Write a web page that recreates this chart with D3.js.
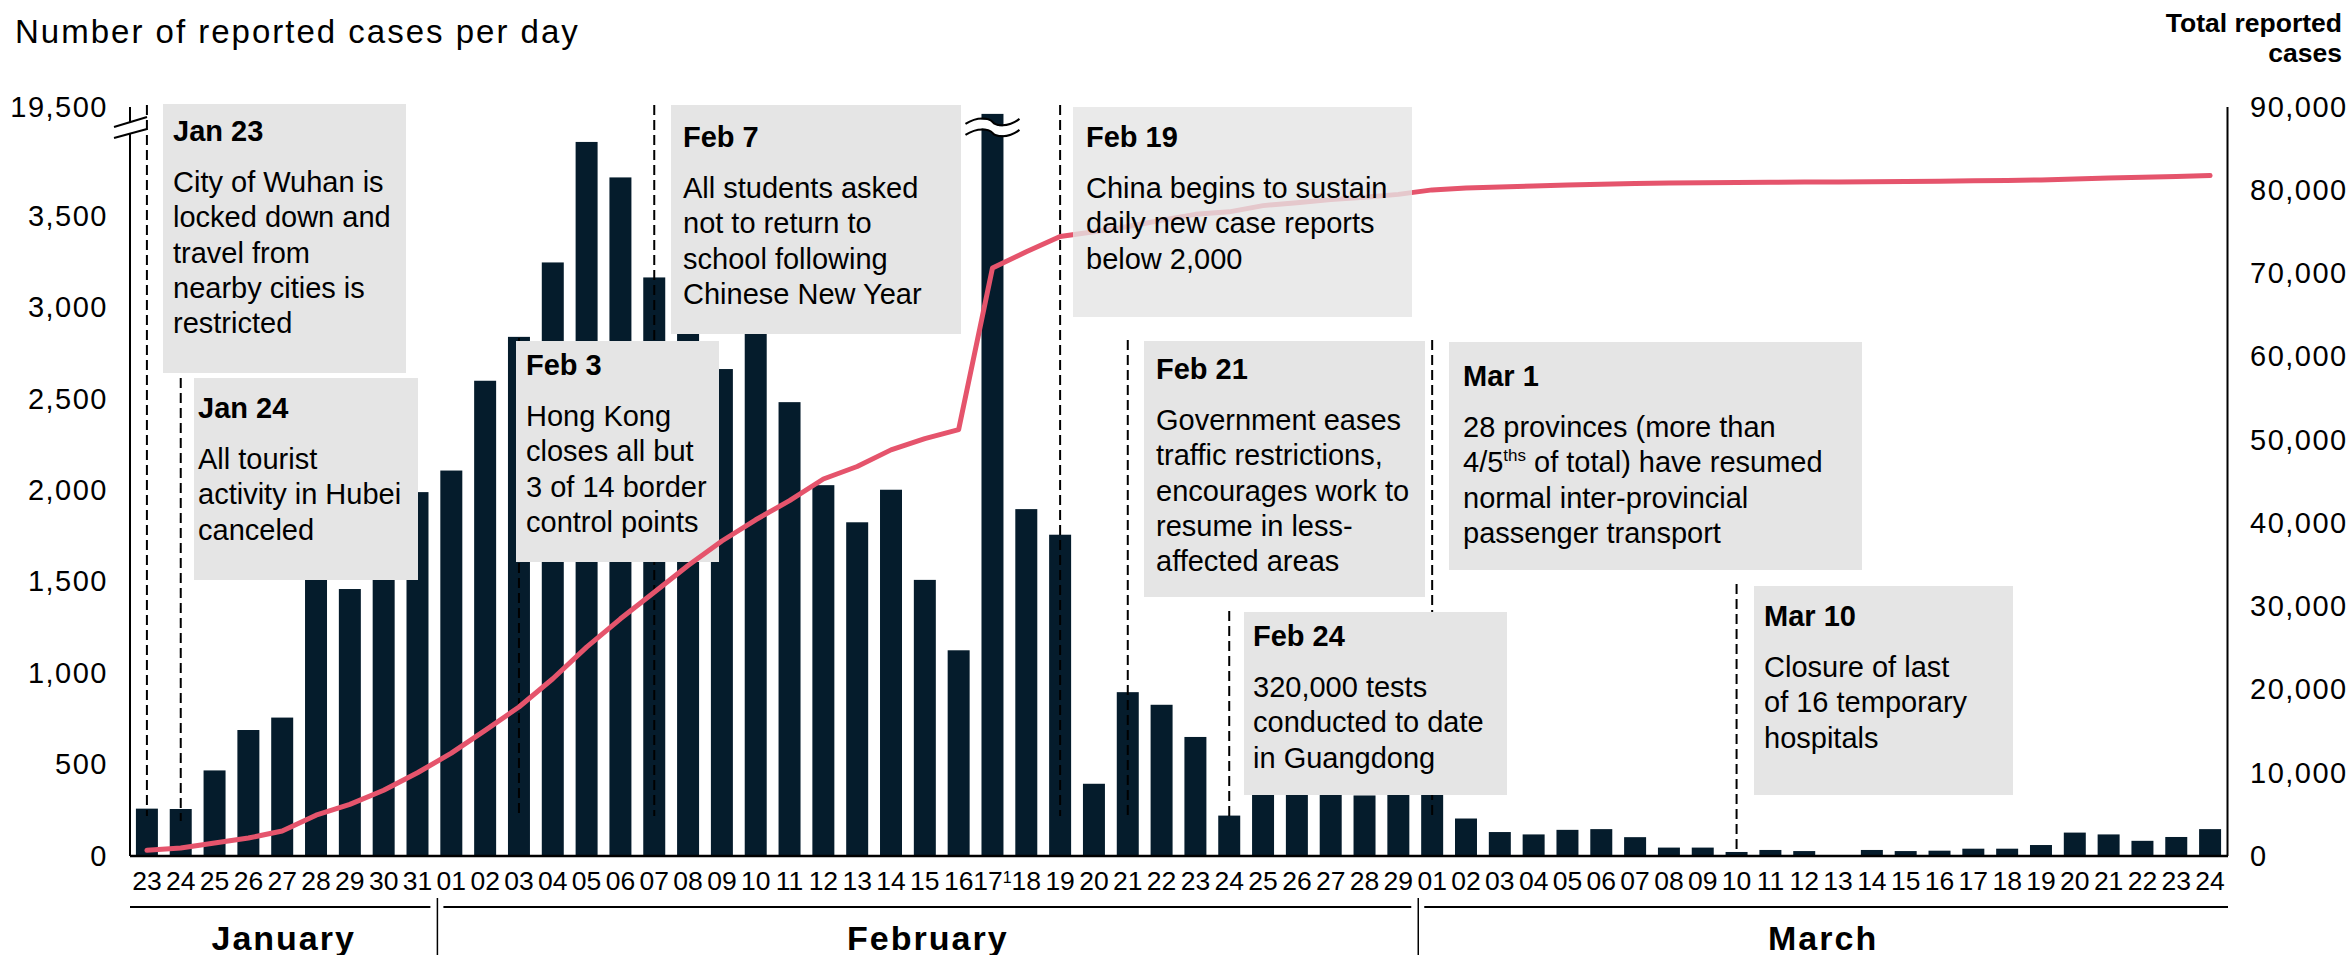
<!DOCTYPE html>
<html>
<head>
<meta charset="utf-8">
<script src="https://cdn.jsdelivr.net/npm/d3@7"></script>
<style>
  body { margin: 0; background: #fff; }
  svg text { font-family: "Liberation Sans", Arial, sans-serif; fill: #000; }
</style>
</head>
<body>
<svg id="chart" width="2351" height="955"></svg>
<script>
// ---- data ----
var months = ['January', 'February', 'March'];
var monthKeys = ['Jan', 'Feb', 'Mar'];

var janDays = ['23','24','25','26','27','28','29','30','31'];
var febDays = ['01','02','03','04','05','06','07','08','09','10','11','12','13','14','15',
               '16','17','18','19','20','21','22','23','24','25','26','27','28','29'];
var marDays = ['01','02','03','04','05','06','07','08','09','10','11','12','13','14','15',
               '16','17','18','19','20','21','22','23','24'];

// daily reported cases (left axis)
var janCases = [259, 257, 468, 689, 757, 1771, 1460, 1737, 1990];
var febCases = [2108, 2599, 2839, 3246, 3905, 3711, 3164, 3399, 2663, 3062, 2482, 2028, 1825, 2003, 1510,
                1125, 15152, 1897, 1757, 395, 896, 827, 651, 221, 508, 406, 433, 331, 427];
var marCases = [573, 205, 131, 118, 143, 147, 103, 46, 46, 22, 33, 27, 0, 33, 27,
                29, 40, 40, 60, 128, 118, 83, 104, 147];

// total reported cases (right axis)
var janTotal = [680, 970, 1560, 2160, 3000, 4900, 6200, 7900, 10000];
var febTotal = [12360, 15100, 17900, 21300, 25100, 28500, 31700, 34900, 37850, 40400, 42700, 45300, 46800, 48800, 50150,
                51240, 70650, 72600, 74440, 75000, 75650, 76400, 77100, 77400, 78150, 78500, 78870, 79150, 79500];
var marTotal = [80040, 80280, 80400, 80500, 80630, 80720, 80820, 80870, 80910, 80930, 80960, 80990, 81000, 81030, 81060,
                81090, 81130, 81170, 81230, 81360, 81470, 81550, 81650, 81760];

var leftTicks = [0, 500, 1000, 1500, 2000, 2500, 3000, 3500];
var leftTopTick = 19500;
var rightTicks = [0, 10000, 20000, 30000, 40000, 50000, 60000, 70000, 80000, 90000];
var tickFootnotes = { 'Feb 17': '1' };

var events = [
  { day: 'Jan 23', title: 'Jan 23', lines: ['City of Wuhan is', 'locked down and', 'travel from', 'nearby cities is', 'restricted'] },
  { day: 'Jan 24', title: 'Jan 24', lines: ['All tourist', 'activity in Hubei', 'canceled'] },
  { day: 'Feb 03', title: 'Feb 3', lines: ['Hong Kong', 'closes all but', '3 of 14 border', 'control points'] },
  { day: 'Feb 07', title: 'Feb 7', lines: ['All students asked', 'not to return to', 'school following', 'Chinese New Year'] },
  { day: 'Feb 19', title: 'Feb 19', lines: ['China begins to sustain', 'daily new case reports', 'below 2,000'] },
  { day: 'Feb 21', title: 'Feb 21', lines: ['Government eases', 'traffic restrictions,', 'encourages work to', 'resume in less-', 'affected areas'] },
  { day: 'Feb 24', title: 'Feb 24', lines: ['320,000 tests', 'conducted to date', 'in Guangdong'] },
  { day: 'Mar 01', title: 'Mar 1', lines: ['28 provinces (more than', '4/5^ths^ of total) have resumed', 'normal inter-provincial', 'passenger transport'] },
  { day: 'Mar 10', title: 'Mar 10', lines: ['Closure of last', 'of 16 temporary', 'hospitals'] }
];

// ---- layout (pixels) ----
var boxLayout = {
  'Jan 23': { x: 163,  y: 104, w: 243, h: 269, tDy: 37, tx: 10, top: 105, bottom: 816 },
  'Jan 24': { x: 194,  y: 378, w: 224, h: 202, tDy: 40, tx: 4,  top: 378, bottom: 821 },
  'Feb 03': { x: 516,  y: 341, w: 203, h: 221, tDy: 34, tx: 10, top: 338, bottom: 816 },
  'Feb 07': { x: 671,  y: 105, w: 290, h: 229, tDy: 42, tx: 12, top: 105, bottom: 816 },
  'Feb 19': { x: 1073, y: 107, w: 339, h: 210, tDy: 40, tx: 13, top: 105, bottom: 816, alpha: 0.8 },
  'Feb 21': { x: 1144, y: 341, w: 281, h: 256, tDy: 38, tx: 12, top: 340, bottom: 819 },
  'Feb 24': { x: 1244, y: 612, w: 263, h: 183, tDy: 34, tx: 9,  top: 611, bottom: 819 },
  'Mar 01': { x: 1449, y: 342, w: 413, h: 228, tDy: 44, tx: 14, top: 340, bottom: 819 },
  'Mar 10': { x: 1754, y: 586, w: 259, h: 209, tDy: 40, tx: 10, top: 584, bottom: 851 }
};

var NAVY = '#051c2c',
    RED = '#e5546c',
    BOX = '#e5e5e5',
    FONT = '"Liberation Sans", Arial, sans-serif';

var left = 130, right = 2227, base = 856;

// rows
var rows = [];
[[janDays, janCases, janTotal], [febDays, febCases, febTotal], [marDays, marCases, marTotal]].forEach(function(m, mi) {
  m[0].forEach(function(d, i) {
    rows.push({ id: monthKeys[mi] + ' ' + d, label: d, cases: m[1][i], total: m[2][i], month: mi });
  });
});

var svg = d3.select('#chart');

// ---- scales ----
var x = d3.scaleBand()
  .domain(rows.map(function(d) { return d.id; }))
  .range([left, right])
  .paddingInner(0.35)
  .paddingOuter(0.175);

var yLow = d3.scaleLinear().domain([0, 3500]).range([base, 216]);
var yHigh = d3.scaleLinear().domain([4000, 19500]).range([129, 108]); // above the axis break
function yLeft(v) { return v > 4000 ? yHigh(v) : yLow(v); }

var yRight = d3.scaleLinear().domain([0, 90000]).range([base, 107]);

function cx(id) { return x(id) + x.bandwidth() / 2; }

// ---- bars ----
svg.append('g').selectAll('rect')
  .data(rows)
  .enter().append('rect')
  .attr('x', function(d) { return x(d.id); })
  .attr('width', x.bandwidth())
  .attr('y', function(d) { return yLeft(d.cases); })
  .attr('height', function(d) { return base - yLeft(d.cases); })
  .attr('fill', NAVY);

// break on the tall bar
rows.filter(function(d) { return d.cases > 4000; }).forEach(function(d) {
  var c = cx(d.id), y0 = yHigh(d.cases) + 9;
  var wave = function(dy) {
    var y = y0 + dy;
    return 'M' + (c - 27) + ',' + (y + 1) + ' C' + (c - 15) + ',' + (y - 7) + ' ' + (c - 3) + ',' + (y - 5) + ' ' + c + ',' + (y - 1)
      + ' C' + (c + 3) + ',' + (y + 3) + ' ' + (c + 15) + ',' + (y + 5) + ' ' + (c + 27) + ',' + (y - 4);
  };
  svg.append('path').attr('d', wave(5.5)).attr('fill', 'none').attr('stroke', '#fff').attr('stroke-width', 9);
  svg.append('path').attr('d', wave(0)).attr('fill', 'none').attr('stroke', '#000').attr('stroke-width', 2);
  svg.append('path').attr('d', wave(11)).attr('fill', 'none').attr('stroke', '#000').attr('stroke-width', 2);
});

// ---- event markers (dashed lines) ----
svg.append('g').selectAll('line')
  .data(events)
  .enter().append('line')
  .attr('x1', function(d) { return cx(d.day); })
  .attr('x2', function(d) { return cx(d.day); })
  .attr('y1', function(d) { return boxLayout[d.day].top; })
  .attr('y2', function(d) { return boxLayout[d.day].bottom; })
  .attr('stroke', '#000')
  .attr('stroke-width', 2)
  .attr('stroke-dasharray', '10,5');

// opaque boxes first
var solid = events.filter(function(d) { return !boxLayout[d.day].alpha; });
svg.append('g').selectAll('rect')
  .data(solid)
  .enter().append('rect')
  .attr('x', function(d) { return boxLayout[d.day].x; })
  .attr('y', function(d) { return boxLayout[d.day].y; })
  .attr('width', function(d) { return boxLayout[d.day].w; })
  .attr('height', function(d) { return boxLayout[d.day].h; })
  .attr('fill', BOX);

// ---- total cases line ----
var line = d3.line()
  .x(function(d) { return cx(d.id); })
  .y(function(d) { return yRight(d.total); });

svg.append('path')
  .datum(rows)
  .attr('d', line)
  .attr('fill', 'none')
  .attr('stroke', RED)
  .attr('stroke-width', 5)
  .attr('stroke-linejoin', 'round')
  .attr('stroke-linecap', 'round');

// see-through boxes over the line
svg.append('g').selectAll('rect')
  .data(events.filter(function(d) { return boxLayout[d.day].alpha; }))
  .enter().append('rect')
  .attr('x', function(d) { return boxLayout[d.day].x; })
  .attr('y', function(d) { return boxLayout[d.day].y; })
  .attr('width', function(d) { return boxLayout[d.day].w; })
  .attr('height', function(d) { return boxLayout[d.day].h; })
  .attr('fill', BOX)
  .attr('fill-opacity', function(d) { return boxLayout[d.day].alpha; });

// box texts
function addRich(t, str) {
  // "^...^" marks superscript
  var raised = false;
  str.split('^').forEach(function(part, i) {
    var sup = i % 2 === 1;
    if (!part) return;
    var ts = t.append('tspan').text(part);
    if (sup) {
      ts.attr('font-size', 17).attr('dy', -11);
      raised = true;
    } else if (raised) {
      ts.attr('dy', 11);
      raised = false;
    }
  });
}

events.forEach(function(ev) {
  var b = boxLayout[ev.day],
      tx = b.x + b.tx,
      ty = b.y + b.tDy;
  svg.append('text')
    .attr('x', tx).attr('y', ty)
    .attr('font-size', 29).attr('font-weight', 'bold')
    .text(ev.title);
  ev.lines.forEach(function(l, i) {
    var t = svg.append('text')
      .attr('x', tx).attr('y', ty + 51 + i * 35.3)
      .attr('font-size', 29);
    addRich(t, l);
  });
});

// ---- axes ----
var axLeft = svg.append('g')
  .attr('transform', 'translate(108,0)')
  .call(d3.axisLeft(yLow).tickValues(leftTicks).tickSize(0).tickPadding(0).tickFormat(d3.format(',')));
axLeft.select('.domain').remove();
axLeft.append('g').attr('class', 'tick').attr('transform', 'translate(0,' + yHigh(leftTopTick) + ')')
  .append('text').attr('fill', '#000').attr('dy', '0.32em').text(d3.format(',')(leftTopTick));
axLeft.attr('font-size', 29).attr('font-family', FONT);
axLeft.selectAll('text').attr('x', 0).style('letter-spacing', '1.5px');

// left axis line with break
var brk = svg.append('g').attr('stroke', '#000').attr('stroke-width', 2).attr('fill', 'none');
brk.append('line').attr('x1', left).attr('x2', left).attr('y1', 107).attr('y2', 122);
brk.append('line').attr('x1', left).attr('x2', left).attr('y1', 134).attr('y2', base);
brk.append('line').attr('x1', 114).attr('y1', 127).attr('x2', 147).attr('y2', 117);
brk.append('line').attr('x1', 114).attr('y1', 138).attr('x2', 147).attr('y2', 129);

var axRight = svg.append('g')
  .attr('transform', 'translate(2250,0)')
  .call(d3.axisRight(yRight).tickValues(rightTicks).tickSize(0).tickPadding(0).tickFormat(d3.format(',')));
axRight.select('.domain').remove();
axRight.attr('font-size', 29).attr('font-family', FONT);
axRight.selectAll('text').style('letter-spacing', '1.5px');
svg.append('line').attr('x1', right + 0.5).attr('x2', right + 0.5).attr('y1', 107).attr('y2', base)
  .attr('stroke', '#000').attr('stroke-width', 2);

var axBottom = svg.append('g')
  .attr('transform', 'translate(0,' + base + ')')
  .call(d3.axisBottom(x).tickSize(0).tickPadding(15)
    .tickFormat(function(id) { return id.slice(4); }));
axBottom.select('.domain').remove();
axBottom.attr('font-size', 26.5).attr('font-family', FONT);
axBottom.selectAll('.tick text').each(function(id) {
  if (tickFootnotes[id]) {
    d3.select(this).append('tspan').attr('font-size', 16).attr('dy', '-0.45em').text(tickFootnotes[id]);
  }
});
svg.append('line').attr('x1', left).attr('x2', right + 1).attr('y1', base).attr('y2', base)
  .attr('stroke', '#000').attr('stroke-width', 2.5);

// ---- month row ----
var bounds = [left];
rows.forEach(function(d, i) {
  if (i > 0 && d.month !== rows[i - 1].month) bounds.push(x(d.id) - x.step() * x.paddingInner() / 2 + 3);
});
bounds.push(right + 1);

months.forEach(function(m, i) {
  var a = bounds[i], b = bounds[i + 1];
  svg.append('line')
    .attr('x1', i === 0 ? a : a + 6).attr('x2', i === months.length - 1 ? b : b - 7)
    .attr('y1', 907).attr('y2', 907)
    .attr('stroke', '#000').attr('stroke-width', 2);
  svg.append('text')
    .attr('x', (a + b) / 2).attr('y', 950)
    .attr('text-anchor', 'middle')
    .attr('font-size', 34).attr('font-weight', 'bold')
    .style('letter-spacing', '2px')
    .text(m);
  if (i > 0) {
    svg.append('line').attr('x1', a).attr('x2', a).attr('y1', 898).attr('y2', 955)
      .attr('stroke', '#000').attr('stroke-width', 1.5);
  }
});

// ---- titles ----
svg.append('text')
  .attr('x', 15).attr('y', 43)
  .attr('font-size', 33)
  .style('letter-spacing', '2px')
  .text('Number of reported cases per day');

svg.append('text')
  .attr('text-anchor', 'end')
  .attr('font-size', 26.5).attr('font-weight', 'bold')
  .selectAll('tspan')
  .data(['Total reported', 'cases'])
  .enter().append('tspan')
  .attr('x', 2342)
  .attr('y', function(d, i) { return 32 + i * 30; })
  .text(function(d) { return d; });
</script>
</body>
</html>
